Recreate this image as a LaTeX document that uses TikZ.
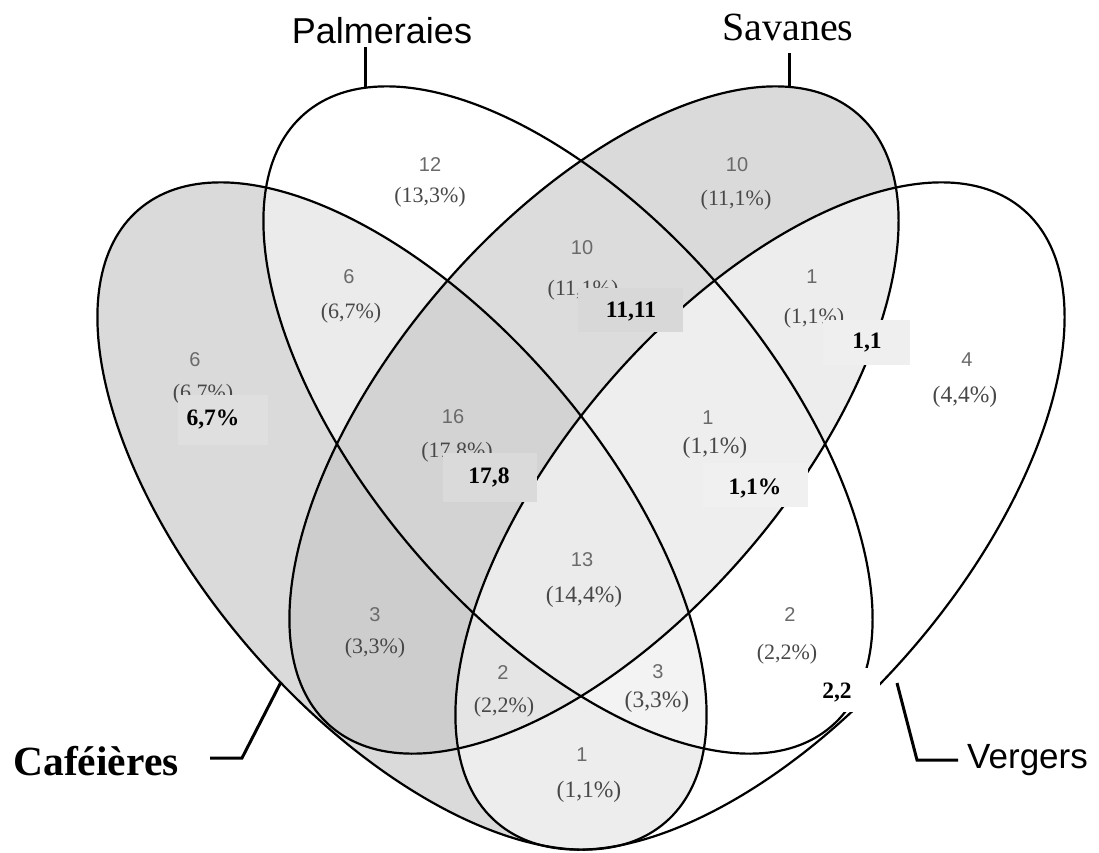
\documentclass[tikz,border=0pt]{standalone}
\usepackage{fontspec}
\setmainfont{Liberation Serif}
\newfontfamily\arialfam{Liberation Sans}
\definecolor{numgray}{HTML}{6A6A6A}
\definecolor{pctgray}{HTML}{484848}
\definecolor{cC}{HTML}{DADADA}
\definecolor{cP}{HTML}{FFFFFF}
\definecolor{cS}{HTML}{DADADA}
\definecolor{cV}{HTML}{FFFFFF}
\definecolor{cCP}{HTML}{EBEBEB}
\definecolor{cCS}{HTML}{CDCDCD}
\definecolor{cCV}{HTML}{EDEDED}
\definecolor{cPS}{HTML}{DCDCDC}
\definecolor{cPV}{HTML}{FFFFFF}
\definecolor{cSV}{HTML}{EDEDED}
\definecolor{cCPS}{HTML}{D3D3D3}
\definecolor{cCPV}{HTML}{F3F3F3}
\definecolor{cCSV}{HTML}{E5E5E5}
\definecolor{cPSV}{HTML}{EEEEEE}
\definecolor{cCPSV}{HTML}{EBEBEB}
\definecolor{bxA}{HTML}{DFDFDF}
\definecolor{bxB}{HTML}{D8D8D8}
\definecolor{bxC}{HTML}{EFEFEF}
\definecolor{bxD}{HTML}{DADADA}
\definecolor{bxE}{HTML}{F0F0F0}
\begin{document}
\begin{tikzpicture}[x=1pt,y=1pt,
  num/.style={font=\arialfam\fontsize{20}{20}\selectfont, text=numgray, inner sep=0pt},
  pct/.style={font=\fontsize{22}{22}\selectfont, text=pctgray, inner sep=0pt},
  pctL/.style={font=\fontsize{23.5}{23.5}\selectfont, text=pctgray, inner sep=0pt},
  patch/.style={inner sep=0pt, draw=none, anchor=north west},
  patchtxt/.style={font=\bfseries\fontsize{23.5}{23.5}\selectfont, text=black, inner sep=0pt},
  venn/.style={draw=black, line width=2.2pt},
  lead/.style={draw=black, line width=3pt}
]
\def\pC{(402,-516) circle [x radius=404, y radius=202, rotate=-49.35]}
\def\pP{(568,-420) circle [x radius=404, y radius=202, rotate=-49.35]}
\def\pS{(594,-420) circle [x radius=404, y radius=202, rotate=49.35]}
\def\pV{(760,-516) circle [x radius=404, y radius=202, rotate=49.35]}
\useasboundingbox (0,0) rectangle (1099,-852);
\fill[white] (0,0) rectangle (1099,-852);
% singles
\fill[cC] \pC; \fill[cP] \pP; \fill[cS] \pS; \fill[cV] \pV;
% pairs
\begin{scope}\clip \pC; \fill[cCP] \pP; \end{scope}
\begin{scope}\clip \pC; \fill[cCS] \pS; \end{scope}
\begin{scope}\clip \pC; \fill[cCV] \pV; \end{scope}
\begin{scope}\clip \pP; \fill[cPS] \pS; \end{scope}
\begin{scope}\clip \pP; \fill[cPV] \pV; \end{scope}
\begin{scope}\clip \pS; \fill[cSV] \pV; \end{scope}
% triples
\begin{scope}\clip \pC; \clip \pP; \fill[cCPS] \pS; \end{scope}
\begin{scope}\clip \pC; \clip \pP; \fill[cCPV] \pV; \end{scope}
\begin{scope}\clip \pC; \clip \pS; \fill[cCSV] \pV; \end{scope}
\begin{scope}\clip \pP; \clip \pS; \fill[cPSV] \pV; \end{scope}
% quadruple
\begin{scope}\clip \pC; \clip \pP; \clip \pS; \fill[cCPSV] \pV; \end{scope}
% outlines
\draw[venn] \pC; \draw[venn] \pP; \draw[venn] \pS; \draw[venn] \pV;
% region texts
\node[num] (n1) at (195,-360) {6};   \node[pct] (q1) at (203,-394) {(6,7\%)};
\node[num] (n2) at (430,-165) {12};  \node[pct] (q2) at (430,-197) {(13,3\%)};
\node[num] (n3) at (737,-165) {10};  \node[pct] (q3) at (736,-200) {(11,1\%)};
\node[num] (n4) at (967,-360) {4};   \node[pctL] (q4) at (965,-397) {(4,4\%)};
\node[num] (n5) at (349,-277) {6};   \node[pct] (q5) at (351,-313) {(6,7\%)};
\node[num] (n6) at (582,-248) {10};  \node[pct] (q6) at (583,-290) {(11,1\%)};
\node[num] (n7) at (812,-277) {1};   \node[pct] (q7) at (814,-318) {(1,1\%)};
\node[num] (n8) at (453,-417) {16};  \node[pct] (q8) at (457,-452) {(17,8\%)};
\node[num] (n9) at (708,-418) {1};   \node[pctL] (q9) at (715,-448) {(1,1\%)};
\node[num] (n10) at (582,-560) {13}; \node[pctL] (q10) at (584,-597) {(14,4\%)};
\node[num] (n11) at (375,-615) {3};  \node[pct] (q11) at (375,-648) {(3,3\%)};
\node[num] (n12) at (503,-673) {2};  \node[pct] (q12) at (504,-707) {(2,2\%)};
\node[num] (n13) at (658,-672) {3};  \node[pctL] (q13) at (657,-702) {(3,3\%)};
\node[num] (n14) at (582,-755) {1};  \node[pctL] (q14) at (589,-792) {(1,1\%)};
\node[num] (n15) at (790,-615) {2};  \node[pct] (q15) at (787,-654) {(2,2\%)};
% patches
\node[patch, fill=bxA, minimum width=90pt, minimum height=50pt] (b1) at (178,-395) {};
\node[patchtxt] (t1) at (213,-419) {6,7\%};
\node[patch, fill=bxB, minimum width=105pt, minimum height=44pt] (b2) at (578,-288) {};
\node[patchtxt] (t2) at (631,-312) {11,11};
\node[patch, fill=bxC, minimum width=87pt, minimum height=45pt] (b3) at (823,-320) {};
\node[patchtxt] (t3) at (867,-343) {1,1};
\node[patch, fill=bxD, minimum width=94pt, minimum height=49pt] (b4) at (443,-453) {};
\node[patchtxt] (t4) at (489,-477) {17,8};
\node[patch, fill=bxE, minimum width=105pt, minimum height=44pt] (b5) at (703,-463) {};
\node[patchtxt] (t5) at (755,-488) {1,1\%};
\node[patch, fill=white, minimum width=70pt, minimum height=44pt] (b6) at (810,-668) {};
\node[patchtxt] (t6) at (837,-693) {2,2};
% set labels
\node[font=\arialfam\fontsize{36}{36}\selectfont, anchor=base, inner sep=0pt] (lPal) at (382,-43) {Palmeraies};
\coordinate (kPa) at (365,-47); \coordinate (kPb) at (365,-88);
\draw[lead] (kPa) -- (kPb);
\node[font=\fontsize{40}{40}\selectfont, anchor=base, inner sep=0pt] (lSav) at (788,-40.5) {Savanes};
\coordinate (kSa) at (789,-53); \coordinate (kSb) at (789,-88);
\draw[lead] (kSa) -- (kSb);
\node[font=\bfseries\fontsize{41.5}{41.5}\selectfont, anchor=base, inner sep=0pt] (lCaf) at (96,-775) {Caféières};
\coordinate (kCa) at (210,-758); \coordinate (kCb) at (242,-758); \coordinate (kCc) at (281,-682);
\draw[lead] (kCa) -- (kCb) -- (kCc);
\node[font=\arialfam\fontsize{35}{35}\selectfont, anchor=base west, inner sep=0pt] (lVer) at (967,-768) {Vergers};
\coordinate (kVa) at (958,-760); \coordinate (kVb) at (917,-760); \coordinate (kVc) at (897,-683);
\draw[lead] (kVa) -- (kVb) -- (kVc);
\end{tikzpicture}
\end{document}
